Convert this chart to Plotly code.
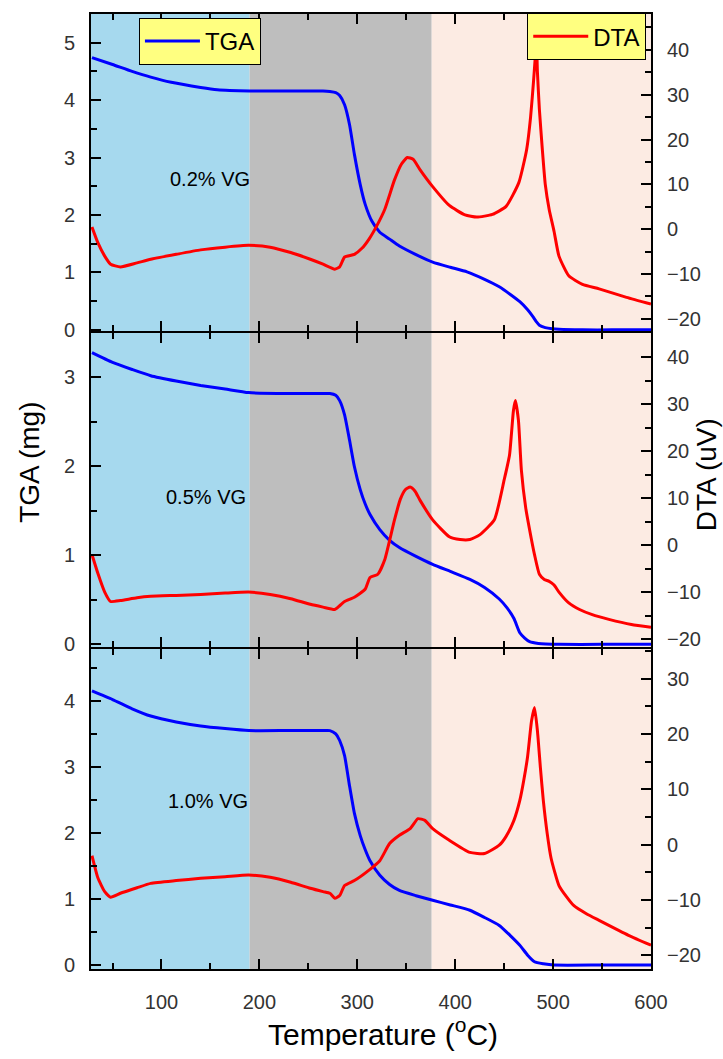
import plotly.graph_objects as go

# ---------------- data ----------------
band_edges = [28, 190, 376, 600]
band_colors = ["#A6D9EE", "#BEBEBE", "#FCEBE3"]

x_ticks = [100, 200, 300, 400, 500, 600]

# Panel 1 : 0.2% VG
tga1_T = [29, 50, 70, 89, 110, 140, 157, 190, 230, 265, 272, 278, 282, 287, 292, 297, 303, 308, 315, 323, 333, 343,
          360, 377, 395, 412, 430, 445, 456, 466, 474, 479, 483, 486, 492, 499, 506, 530, 560, 600]
tga1 = [4.74, 4.62, 4.50, 4.40, 4.31, 4.22, 4.18, 4.16, 4.16, 4.16, 4.15, 4.13, 4.08, 3.92, 3.58, 3.06, 2.53, 2.19, 1.89,
        1.70, 1.58, 1.46, 1.31, 1.18, 1.09, 1.01, 0.88, 0.75, 0.62, 0.49, 0.35, 0.24, 0.14, 0.08, 0.04, 0.02,
        0.01, 0.0, 0.0, 0.0]
dta1_T = [29, 35, 42, 48, 58, 75, 89, 115, 140, 165, 189, 211, 232, 252, 265, 277, 282, 287, 297, 305, 312,
          320, 328, 338, 345, 351, 357, 364, 377, 394, 410, 422, 438, 452, 465, 473, 477, 480, 482, 483, 484,
          486, 489, 492, 496, 501, 506, 516, 530, 547, 575, 600]
dta1 = [0.5, -3, -6, -7.8, -8.4, -7.5, -6.7, -5.6, -4.6, -4.0, -3.6, -4.0, -5.2, -6.7, -7.8, -8.9, -8.4, -6.2,
        -5.6, -4.2, -2.2, 0.8, 4.4, 11, 14.5, 16, 15.6, 13.3, 9.5, 5.3, 3.2, 2.7, 3.3, 5.1, 10.4, 17.8, 25, 33,
        39, 42, 35, 26.7, 17.8, 10, 4.4, -0.5, -6.0, -10.4, -12.3, -13.3, -15.2, -16.7]

# Panel 2 : 0.5% VG
tga2_T = [29, 50, 70, 89, 115, 140, 165, 189, 230, 265, 272, 278, 282, 287, 292, 297, 303, 308, 313, 323, 333, 343,
          360, 377, 395, 415, 430, 445, 453, 460, 466, 471, 476, 485, 506, 550, 600]
tga2 = [3.28, 3.17, 3.09, 3.02, 2.96, 2.91, 2.87, 2.83, 2.82, 2.82, 2.82, 2.80, 2.74, 2.58, 2.30, 2.00, 1.74, 1.58, 1.46,
        1.29, 1.17, 1.09, 0.99, 0.90, 0.82, 0.73, 0.64, 0.51, 0.41, 0.29, 0.13, 0.07, 0.03, 0.01, 0.0, 0.0, 0.0]
dta2_T = [29, 35, 42, 48, 58, 75, 89, 115, 140, 165, 189, 211, 232, 252, 265, 277, 282, 287, 297, 308, 313,
          321, 328, 338, 344, 349, 354, 359, 364, 377, 394, 405, 415, 425, 440, 450, 455.5, 459.5, 461.5, 464.6,
          467.6, 472, 476, 481, 486, 491, 496, 501, 506, 516, 527, 540, 557, 580, 600]
dta2 = [-2, -6, -10, -12, -11.8, -11.2, -10.9, -10.7, -10.5, -10.2, -10, -10.5, -11.4, -12.6, -13.2, -13.7,
        -12.9, -12, -11.1, -9.4, -6.9, -6.2, -3.1, 5.4, 9.8, 11.8, 12.4, 11.5, 9.6, 5.4, 1.8, 1.2, 1.2, 2.2,
        5.4, 13.9, 19.2, 28.7, 30.8, 26.6, 16, 8, 3.3, -2, -6.2, -7.3, -7.7, -8.5, -10, -12.3, -13.7, -14.8,
        -15.8, -16.9, -17.5]

# Panel 3 : 1.0% VG
tga3_T = [29, 50, 70, 89, 115, 140, 165, 189, 230, 265, 272, 278, 282, 287, 292, 297, 303, 308, 313, 323, 333, 343,
          360, 377, 395, 415, 430, 445, 456, 466, 474, 481, 490, 501, 550, 600]
tga3 = [4.15, 4.02, 3.88, 3.77, 3.68, 3.62, 3.58, 3.55, 3.55, 3.55, 3.55, 3.50, 3.40, 3.17, 2.72, 2.30, 1.96, 1.75, 1.58,
        1.36, 1.22, 1.13, 1.05, 0.98, 0.91, 0.83, 0.72, 0.60, 0.45, 0.30, 0.15, 0.05, 0.02, 0.0, 0.0, 0.0]
dta3_T = [29, 35, 42, 48, 58, 75, 89, 115, 140, 165, 189, 211, 232, 252, 265, 272, 277, 282, 287, 297, 312,
          323, 333, 343, 354, 362, 369, 377, 394, 415, 430, 445, 452, 460, 466, 470, 474, 478, 481, 484, 487,
          490, 494, 498, 506, 514, 521, 534, 547, 577, 600]
dta3 = [-2, -6, -8.5, -9.5, -8.8, -7.8, -7, -6.5, -6.1, -5.8, -5.5, -5.9, -6.8, -7.9, -8.5, -8.8, -9.7, -9.2,
        -7.4, -6.5, -4.6, -2.9, 0.2, 1.7, 2.9, 4.7, 4.4, 2.9, 0.8, -1.4, -1.6, -0.1, 1.5, 4.4, 8, 11.6, 16,
        22.4, 24.8, 20.6, 14, 8, 2, -2.5, -7.4, -9.5, -11, -12.5, -13.7, -16.4, -18.2]

sample_labels = ["0.2% VG", "0.5% VG", "1.0% VG"]
label_pos = [(150, 2.62), (145, 1.66), (148, 2.49)]

# ---------------- figure ----------------
FONT = "Liberation Sans, Arial, sans-serif"
TICKC = "#333333"
fig = go.Figure()

panels = [
    dict(xa="x", ya="y", yb="y2", tT=tga1_T, t=tga1, dT=dta1_T, d=dta1),
    dict(xa="x2", ya="y3", yb="y4", tT=tga2_T, t=tga2, dT=dta2_T, d=dta2),
    dict(xa="x3", ya="y5", yb="y6", tT=tga3_T, t=tga3, dT=dta3_T, d=dta3),
]
for i, p in enumerate(panels):
    fig.add_trace(go.Scatter(x=p["dT"], y=p["d"], xaxis=p["xa"], yaxis=p["yb"], mode="lines",
                             line=dict(color="#FF0000", width=3, shape="spline", smoothing=0.5), name="DTA",
                             showlegend=(i == 0), legend="legend2"))
    fig.add_trace(go.Scatter(x=p["tT"], y=p["t"], xaxis=p["xa"], yaxis=p["ya"], mode="lines",
                             line=dict(color="#0000FF", width=3, shape="spline", smoothing=0.5), name="TGA",
                             showlegend=(i == 0), legend="legend"))

# background bands spanning all panels
for k in range(3):
    fig.add_shape(type="rect", xref="x", yref="paper", x0=band_edges[k], x1=band_edges[k + 1],
                  y0=0, y1=1, fillcolor=band_colors[k], line_width=0, layer="below")

g = 2.0 / 955  # gap so that the two boundary lines coincide
dom = [[0.667 + g / 2, 1.0], [0.3361 + g / 2, 0.667 - g / 2], [0.0, 0.3361 - g / 2]]
left_rng = [[-0.02, 5.5], [-0.03, 3.5], [-0.06, 4.785]]
right_rng = [[-22.7, 48], [-21.7, 45.2], [-22.5, 35.4]]

tickfont = dict(family=FONT, size=20, color=TICKC)
common_x = dict(range=[28, 600], showline=True, linecolor="black", linewidth=2, mirror="ticks",
                ticks="inside", ticklen=10, tickwidth=2, tickcolor="black", tickvals=x_ticks,
                minor=dict(ticks="inside", ticklen=6, tickwidth=2, tickcolor="black", dtick=50, tick0=0),
                showgrid=False, zeroline=False, tickfont=tickfont)

layout = dict(width=723, height=1059, margin=dict(l=91, r=72, t=14, b=90),
              paper_bgcolor="white", plot_bgcolor="rgba(0,0,0,0)", font=dict(family=FONT))

xnames = ["xaxis", "xaxis2", "xaxis3"]
ylnames = ["yaxis", "yaxis3", "yaxis5"]
yrnames = ["yaxis2", "yaxis4", "yaxis6"]
yl_ids = ["y", "y3", "y5"]
for i in range(3):
    xa = dict(common_x)
    xa["anchor"] = yl_ids[i]
    xa["showticklabels"] = (i == 2)
    xa["ticklabelstandoff"] = 14
    if i > 0:
        xa["matches"] = "x"
    layout[xnames[i]] = xa
    layout[ylnames[i]] = dict(domain=dom[i], range=left_rng[i], anchor=["x", "x2", "x3"][i],
                              showline=True, linecolor="black", linewidth=2, ticks="inside", ticklen=10,
                              tickwidth=2, tickcolor="black", dtick=1, tick0=0,
                              minor=dict(ticks="inside", ticklen=6, tickwidth=2, tickcolor="black",
                                         dtick=0.5, tick0=0),
                              showgrid=False, zeroline=False, tickfont=tickfont, ticklabelstandoff=10)
    layout[yrnames[i]] = dict(overlaying=yl_ids[i], side="right", range=right_rng[i],
                              anchor=["x", "x2", "x3"][i],
                              showline=True, linecolor="black", linewidth=2, ticks="inside", ticklen=10,
                              tickwidth=2, tickcolor="black", dtick=10, tick0=0,
                              minor=dict(ticks="inside", ticklen=6, tickwidth=2, tickcolor="black",
                                         dtick=5, tick0=0),
                              showgrid=False, zeroline=False, tickfont=tickfont, ticklabelstandoff=10)

legend_common = dict(bgcolor="#FFFF80", bordercolor="black", borderwidth=1,
                     font=dict(family=FONT, size=24, color="black"), itemwidth=55,
                     xanchor="left", yanchor="top", tracegroupgap=0)
layout["legend"] = dict(legend_common, x=0.0856, y=0.996)
layout["legend2"] = dict(legend_common, x=0.779, y=1.001)

fig.update_layout(**layout)

# sample labels
for i in range(3):
    fig.add_annotation(x=label_pos[i][0], y=label_pos[i][1], xref=["x", "x2", "x3"][i], yref=yl_ids[i],
                       text=sample_labels[i], showarrow=False, font=dict(family=FONT, size=20, color="black"))

# axis titles
fig.add_annotation(x=0.521, y=-0.066, xref="paper", yref="paper", text="Temperature (<sup>o</sup>C)",
                   xanchor="center", yanchor="middle",
                   showarrow=False, font=dict(family=FONT, size=30, color="black"))
fig.add_annotation(x=-0.109, y=0.531, xref="paper", yref="paper", text="TGA (mg)", textangle=-90,
                   xanchor="center", yanchor="middle",
                   showarrow=False, font=dict(family=FONT, size=28, color="black"))
fig.add_annotation(x=1.098, y=0.518, xref="paper", yref="paper", text="DTA (uV)", textangle=-90,
                   xanchor="center", yanchor="middle",
                   showarrow=False, font=dict(family=FONT, size=28, color="black"))

fig.write_html("out.html")
